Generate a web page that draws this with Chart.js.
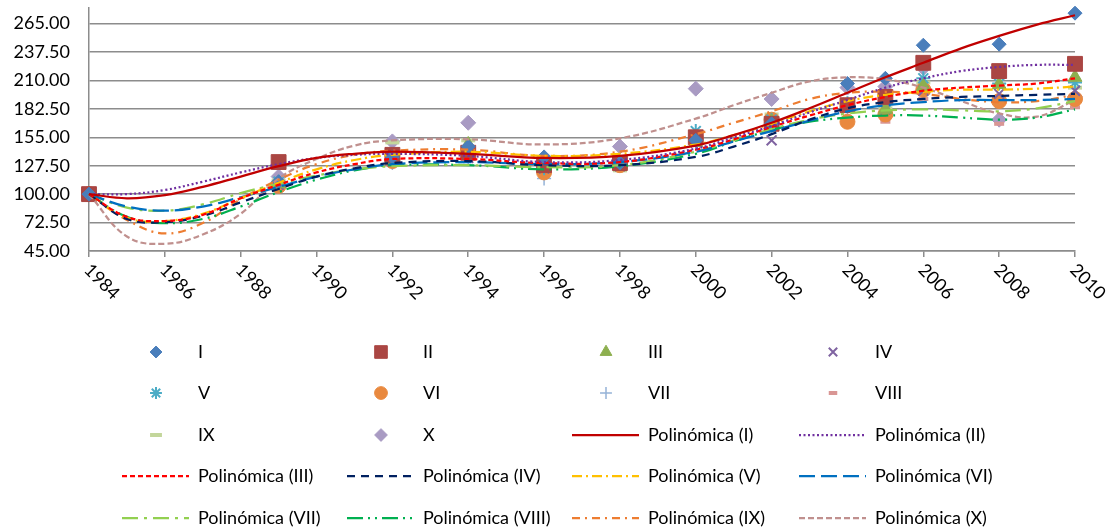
<!DOCTYPE html>
<html>
<head>
<meta charset="utf-8">
<script src="https://cdn.jsdelivr.net/npm/chart.js@4.4.1/dist/chart.umd.min.js"></script>
<style>
  html, body { margin: 0; padding: 0; background: #fff; }
  #wrap { width: 1112px; height: 532px; }
</style>
</head>
<body>
<div id="wrap"><canvas id="chart" width="1112" height="532"></canvas></div>
<script>
// observed values (markers)
const obsYears = [1984, 1989, 1992, 1994, 1996, 1998, 2000, 2002, 2004, 2005, 2006, 2008, 2010];
const serieI    = [100, 112, 136, 146, 136, 130, 152, 168, 207, 212, 244, 245, 275];
const serieII   = [100, 131, 138, 140, 128, 130, 155, 168, 186, 194, 227, 219, 226];
const serieIII  = [100, 110, 133, 148, 127, 128, 150, 170, 183, 182, 204, 206, 213];
const serieIV   = [100, 109, 132, 135, 125, 127, 150, 152, 183, 182, 200, 197, 200];
const serieV    = [100, 112, 135, 143, 125, 130, 161, 172, 188, 189, 212, 207, 208];
const serieVI   = [100, 108, 132, 140, 121, 128, 154, 172, 170, 177, 201, 190, 192];
const serieVII  = [100, 108, 130, 136, 115, 129, 150, 165, 180, 180, 197, 191, 192];
const serieVIII = [100, 106, 130, 135, 118, 127, 152, 168, 182, 170, 192, 168, 184];
const serieIX   = [100, 113, 150, 152, 130, 123, 160, 177, 190, 183, 208, 192, 203];
const serieX    = [100, 117, 151, 169, 132, 146, 202, 192, 203, 204, 222, 172, 194];

// polynomial trendlines
const trendYears = [1984, 1985, 1986, 1987, 1988, 1989, 1990, 1991, 1992, 1994, 1996, 1998, 2000, 2001, 2002, 2003, 2004, 2005, 2006, 2007, 2008, 2009, 2010];
const trendI    = [100, 96, 99, 107, 117, 127, 135, 139, 141, 139, 135, 137, 147, 157, 169, 183, 198, 213, 227, 241, 253, 264, 273];
const trendII   = [100, 100, 104, 112, 121, 129, 135, 138, 139, 137, 131, 133, 144, 155, 166, 179, 191, 203, 212, 219, 223, 225, 225];
const trendIII  = [100, 78, 74, 80, 96, 109, 121, 129, 134, 134, 130, 131, 143, 153, 165, 176, 186, 194, 200, 203, 205, 207, 212];
const trendIV   = [100, 76, 73, 79, 92, 105, 117, 125, 130, 132, 128, 128, 136, 146, 158, 172, 183, 189, 192, 194, 195, 196, 197];
const trendV    = [100, 77, 74, 81, 96, 111, 124, 133, 138, 141, 137, 139, 148, 157, 168, 180, 190, 196, 199, 201, 201, 202, 204];
const trendVI   = [100, 88, 84, 88, 97, 107, 117, 124, 129, 131, 129, 131, 141, 151, 161, 171, 180, 186, 189, 191, 191, 191, 192];
const trendVII  = [100, 87, 84, 90, 101, 110, 118, 124, 127, 128, 126, 128, 141, 152, 163, 172, 178, 181, 182, 181, 180, 183, 190];
const trendVIII = [100, 78, 72, 76, 88, 102, 114, 123, 128, 128, 124, 127, 139, 151, 162, 170, 174, 176, 176, 174, 172, 174, 182];
const trendIX   = [100, 75, 62, 72, 95, 114, 129, 138, 142, 143, 137, 141, 158, 169, 180, 192, 198, 199, 197, 192, 189, 190, 196];
const trendX    = [100, 59, 52, 61, 81, 115, 134, 147, 152, 153, 148, 154, 173, 186, 198, 209, 213, 211, 203, 190, 178, 175, 191];

const seriesNames = ['I', 'II', 'III', 'IV', 'V', 'VI', 'VII', 'VIII', 'IX', 'X'];
const xTicks = [1984, 1986, 1988, 1990, 1992, 1994, 1996, 1998, 2000, 2002, 2004, 2006, 2008, 2010];
const yTicks = [45, 72.5, 100, 127.5, 155, 182.5, 210, 237.5, 265];

const observed = [serieI, serieII, serieIII, serieIV, serieV, serieVI, serieVII, serieVIII, serieIX, serieX];
const trends = [trendI, trendII, trendIII, trendIV, trendV, trendVI, trendVII, trendVIII, trendIX, trendX];

const markerStyles = [
    { style: 'rectRot',  radius: 7,    color: '#4A7EBB', lw: 1 },
    { style: 'rect',     radius: 10.5, color: '#AA4643', lw: 1 },
    { style: 'triangle', radius: 8,    color: '#8DAF4F', lw: 1 },
    { style: 'crossRot', radius: 7,    color: '#7F63A1', lw: 2 },
    { style: 'star',     radius: 7,    color: '#4BACC6', lw: 2 },
    { style: 'circle',   radius: 7.5,  color: '#E9893F', lw: 1 },
    { style: 'cross',    radius: 7,    color: '#95B3D7', lw: 1.5 },
    { style: 'line',     radius: 5,    color: '#D99694', lw: 4 },
    { style: 'line',     radius: 7,    color: '#C3D69B', lw: 4 },
    { style: 'rectRot',  radius: 7.5,  color: '#A99BC3', lw: 1 }
];

const trendStyles = [
    { color: '#C00000', dash: [] },
    { color: '#7030A0', dash: [2, 2.5] },
    { color: '#FF0000', dash: [5, 3] },
    { color: '#002060', dash: [8, 6] },
    { color: '#FFC000', dash: [10, 4, 2, 4] },
    { color: '#0070C0', dash: [16, 6] },
    { color: '#92D050', dash: [16, 6, 3, 6] },
    { color: '#00B050', dash: [16, 5, 2, 5, 2, 5] },
    { color: '#ED7D31', dash: [8, 5, 2, 5] },
    { color: '#C0908E', dash: [6, 3] }
];

const FONT = 'Lato, "Open Sans", sans-serif';

const datasets = [];
observed.forEach((vals, i) => {
    const m = markerStyles[i];
    datasets.push({
        label: seriesNames[i],
        data: obsYears.map((yr, k) => ({ x: yr, y: vals[k] })),
        showLine: false,
        pointStyle: m.style,
        pointRadius: m.radius,
        pointHoverRadius: m.radius,
        pointBackgroundColor: m.color,
        pointBorderColor: m.color,
        pointBorderWidth: m.lw,
        clip: false,
        order: 1
    });
});
trends.forEach((vals, i) => {
    const t = trendStyles[i];
    datasets.push({
        label: `Polinómica (${seriesNames[i]})`,
        data: trendYears.map((yr, k) => ({ x: yr, y: vals[k] })),
        showLine: true,
        borderColor: t.color,
        borderWidth: 2.25,
        borderDash: t.dash,
        pointRadius: 0,
        tension: 0.4,
        fill: false,
        clip: false,
        order: 0
    });
});

// rotated year labels, drawn under the x axis
const yearLabels = {
    id: 'yearLabels',
    afterDraw(chart) {
        const xs = chart.scales.x;
        const ctx = chart.ctx;
        ctx.save();
        ctx.font = `18px ${FONT}`;
        ctx.fillStyle = '#000';
        ctx.textAlign = 'left';
        ctx.textBaseline = 'middle';
        xTicks.forEach(v => {
            const px = xs.getPixelForValue(v);
            ctx.save();
            ctx.translate(px - 2, xs.top + 16);
            ctx.rotate(Math.PI / 4);
            ctx.fillText(String(v), 0, 0);
            ctx.restore();
        });
        ctx.restore();
    }
};

// Excel-like legend, 4 columns
const gridLegend = {
    id: 'gridLegend',
    afterDraw(chart) {
        const ctx = chart.ctx;
        const colX = [198, 423, 648, 875];
        const rowY = [352, 393, 435, 476, 518];
        ctx.save();
        chart.data.datasets.forEach((ds, i) => {
            const tx = colX[i % 4];
            const ty = rowY[Math.floor(i / 4)];
            if (i < 10) {
                const m = markerStyles[i];
                ctx.fillStyle = m.color;
                ctx.strokeStyle = m.color;
                ctx.lineWidth = m.lw;
                ctx.setLineDash([]);
                Chart.helpers.drawPoint(ctx, { pointStyle: m.style, radius: m.radius * 0.85, rotation: 0, borderWidth: m.lw }, tx - 42, ty);
            } else {
                const t = trendStyles[i - 10];
                ctx.strokeStyle = t.color;
                ctx.lineWidth = 2.25;
                ctx.setLineDash(t.dash);
                ctx.beginPath();
                ctx.moveTo(tx - 76, ty);
                ctx.lineTo(tx - 9, ty);
                ctx.stroke();
            }
            ctx.setLineDash([]);
            ctx.font = `18px ${FONT}`;
            ctx.fillStyle = '#000';
            ctx.textAlign = 'left';
            ctx.textBaseline = 'middle';
            ctx.fillText(ds.label, tx, ty);
        });
        ctx.restore();
    }
};

const ctx = document.getElementById('chart').getContext('2d');
new Chart(ctx, {
    type: 'scatter',
    data: { datasets },
    options: {
        responsive: false,
        animation: false,
        devicePixelRatio: 1,
        layout: { autoPadding: false, padding: { top: 8, right: 37, left: 0, bottom: 0 } },
        plugins: {
            legend: { display: false },
            tooltip: { enabled: false }
        },
        scales: {
            x: {
                type: 'linear',
                min: 1984,
                max: 2010,
                afterBuildTicks: s => { s.ticks = xTicks.map(v => ({ value: v })); },
                afterFit: s => { s.height = 281; s.paddingLeft = 0; s.paddingRight = 0; },
                ticks: { display: false },
                grid: { drawOnChartArea: false, drawTicks: true, tickLength: 6, color: '#8C8C8C', lineWidth: 1.5 },
                border: { color: '#8C8C8C', width: 1.5 }
            },
            y: {
                min: 45,
                max: 280,
                afterBuildTicks: s => { s.ticks = yTicks.map(v => ({ value: v })); },
                afterFit: s => { s.width = 89; s.paddingTop = 0; s.paddingBottom = 0; },
                ticks: {
                    padding: 19,
                    color: '#000',
                    font: { family: FONT, size: 18 },
                    callback: v => Number(v).toFixed(2)
                },
                grid: { drawTicks: false, color: '#8C8C8C', lineWidth: 1.5 },
                border: { color: '#8C8C8C', width: 1.5 }
            }
        }
    },
    plugins: [yearLabels, gridLegend]
});
</script>
</body>
</html>
